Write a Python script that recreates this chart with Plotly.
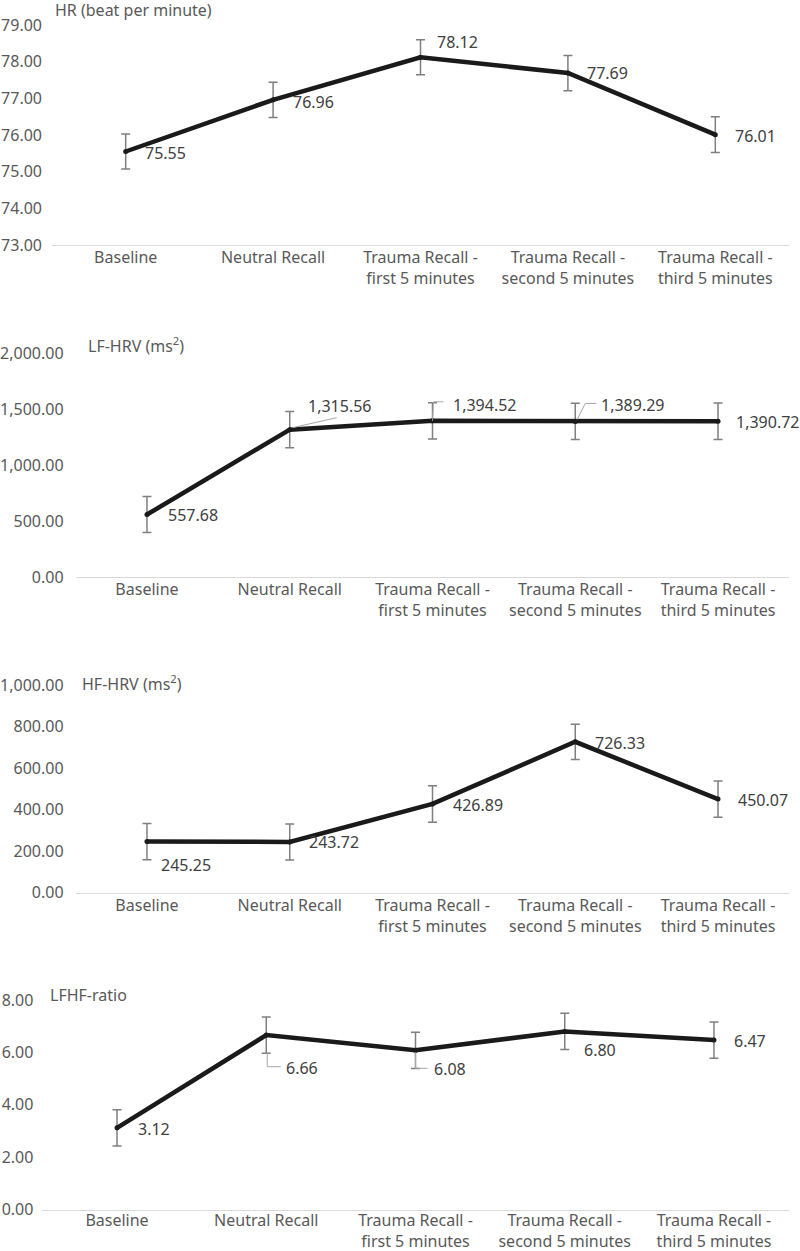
import plotly.graph_objects as go

# ---------------- data ----------------
categories = ["Baseline", "Neutral Recall", "Trauma Recall -<br>first 5 minutes",
              "Trauma Recall -<br>second 5 minutes", "Trauma Recall -<br>third 5 minutes"]

hr_mean = [75.55, 76.96, 78.12, 77.69, 76.01]
hr_se = [0.48, 0.48, 0.48, 0.48, 0.49]

lf_mean = [557.68, 1315.56, 1394.52, 1389.29, 1390.72]
lf_se = [161, 162, 162, 162, 162]

hf_mean = [245.25, 243.72, 426.89, 726.33, 450.07]
hf_se = [87, 87, 88, 85, 87]

lfhf_mean = [3.12, 6.66, 6.08, 6.80, 6.47]
lfhf_se = [0.69, 0.69, 0.69, 0.69, 0.69]

titles = ["HR (beat per minute)", "LF-HRV (ms<sup>2</sup>)", "HF-HRV (ms<sup>2</sup>)", "LFHF-ratio"]
y_ranges = [[73, 79], [0, 2000], [0, 1000], [0, 8]]
y_dticks = [1, 500, 200, 2]

# ---------------- styling / layout (pixels) ----------------
W, H = 800, 1251
FONT = "Noto Sans"
FS = 16
TICK_COLOR = "#595959"
LABEL_COLOR = "#404040"

# plot areas in page pixels: (x_left, x_right, y_top, y_bottom)
areas = [(52, 789, 25, 245), (75.6, 789.4, 353, 577), (75.6, 789.4, 685, 892.5), (42.4, 788.6, 1000, 1209.6)]
title_pos = [(53, 10), (86, 345), (80, 683), (48, 995)]
y_standoffs = [9, 11, 11, 8]
x_standoffs = [-2, -2, -2, -4]

# label offsets per point (xshift, yshift) in px
label_offsets = [
    [(17, -2), (18, -2), (14, 15), (17, 0), (18, -1)],
    [(19, 0), (16, 24), (18, 16), (24, 16), (16, -1)],
    [(12, -23), (17, 0), (18, -1), (18, -1), (18, -1)],
    [(19, -1), (18, -33), (16, -19), (17, -19), (18, -1)],
]
# leader lines: (panel, point index, list of (x,y) px offsets)
leaders = [
    (1, 1, [(3, 2), (47, 12)]),
    (1, 2, [(0, 0), (1, 19), (11, 19)]),
    (1, 3, [(2, 2), (10, 18), (21, 18)]),
    (3, 1, [(1, -17), (1, -31.6), (14.5, -31.6)]),
    (3, 2, [(0, -2), (0, -18), (12, -18)]),
]

series = [(hr_mean, hr_se), (lf_mean, lf_se), (hf_mean, hf_se), (lfhf_mean, lfhf_se)]
xs = list(range(len(categories)))


def px_x(p):
    return p / W


def px_y(p):
    return 1 - p / H


fig = go.Figure()
layout = dict(width=W, height=H, margin=dict(l=0, r=0, t=0, b=0, pad=0), autosize=False,
              paper_bgcolor="white", plot_bgcolor="white", showlegend=False,
              font=dict(family=FONT, size=FS, color=TICK_COLOR))
annotations = []
shapes = []

for i, (mean, se) in enumerate(series):
    n = "" if i == 0 else str(i + 1)
    xa, ya = "x" + n, "y" + n
    fig.add_trace(go.Scatter(
        x=xs, y=mean, xaxis=xa, yaxis=ya, mode="lines+markers",
        line=dict(color="#1a1a1a", width=4.5),
        marker=dict(color="#1a1a1a", size=5),
        error_y=dict(type="data", array=se, visible=True, color="#7f7f7f", thickness=1.5, width=4.5),
        hoverinfo="skip"))
    xl, xr, yt, yb = areas[i]
    layout["xaxis" + n] = dict(domain=[px_x(xl), px_x(xr)], anchor=ya, range=[-0.5, len(categories) - 0.5],
                               tickvals=xs, ticktext=categories, showline=True, linecolor="#d9d9d9",
                               linewidth=1.2, showgrid=False, zeroline=False, ticks="", automargin=False,
                               ticklabelstandoff=x_standoffs[i],
                               tickfont=dict(size=FS, color=TICK_COLOR, family=FONT), fixedrange=True)
    layout["yaxis" + n] = dict(domain=[px_y(yb), px_y(yt)], anchor=xa, range=y_ranges[i],
                               dtick=y_dticks[i], tick0=0, tickformat=",.2f", showline=False,
                               showgrid=False, zeroline=False, ticks="", ticklabelstandoff=y_standoffs[i],
                               automargin=False,
                               tickfont=dict(size=FS, color=TICK_COLOR, family=FONT), fixedrange=True)
    tx, ty = title_pos[i]
    annotations.append(dict(text=titles[i], xref="paper", yref="paper", x=px_x(tx), y=px_y(ty),
                            xanchor="left", yanchor="middle", showarrow=False,
                            font=dict(size=FS, color=TICK_COLOR, family=FONT)))
    for j, v in enumerate(mean):
        dx, dy = label_offsets[i][j]
        annotations.append(dict(text=f"{v:,.2f}", xref=xa, yref=ya, x=xs[j], y=v,
                                xanchor="left", yanchor="middle", xshift=dx, yshift=dy,
                                showarrow=False, font=dict(size=FS, color=LABEL_COLOR, family=FONT)))

for (i, j, pts) in leaders:
    n = "" if i == 0 else str(i + 1)
    mean = series[i][0]
    for (p0, p1) in zip(pts[:-1], pts[1:]):
        shapes.append(dict(type="line", xref="x" + n, yref="y" + n,
                           xsizemode="pixel", xanchor=xs[j], ysizemode="pixel", yanchor=mean[j],
                           x0=p0[0], x1=p1[0], y0=p0[1], y1=p1[1],
                           line=dict(color="#a6a6a6", width=1)))

layout["annotations"] = annotations
layout["shapes"] = shapes
fig.update_layout(**layout)
fig.write_html("out.html", config={"displayModeBar": False},
               post_script="document.body.style.margin='0';document.body.style.overflow='hidden';")
